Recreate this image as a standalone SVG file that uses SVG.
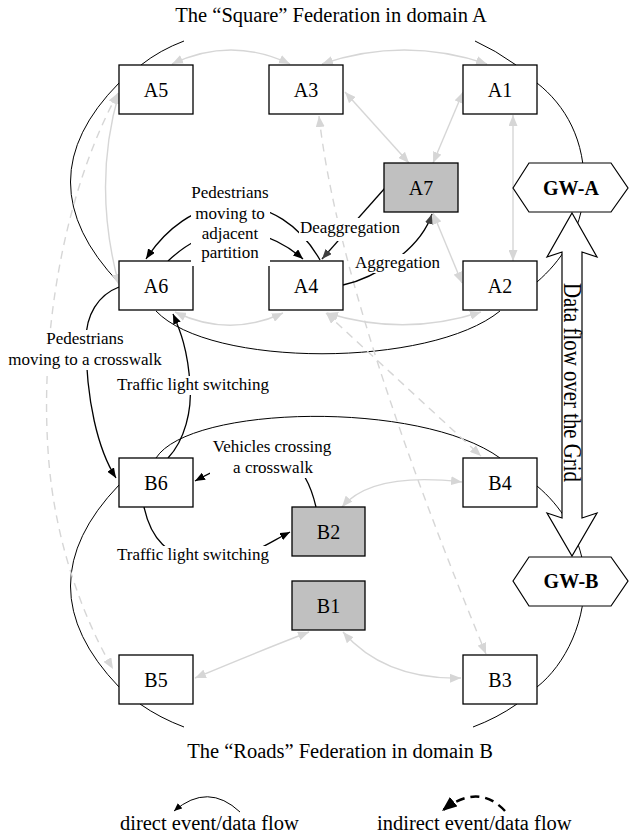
<svg xmlns="http://www.w3.org/2000/svg" width="629" height="838" viewBox="0 0 629 838">
  <defs>
    <style>
      .box { fill: #ffffff; stroke: #000000; stroke-width: 1.3; }
      .box.grey { fill: #c0c0c0; }
      .hex { fill: #ffffff; stroke: #000000; stroke-width: 1.2; }
      .ring { fill: none; stroke: #000000; stroke-width: 1; }
      .link { fill: none; stroke: #d6d6d6; stroke-width: 1.4; marker-start: url(#gh); marker-end: url(#gh); }
      .link.dash { stroke-dasharray: 8 6; }
      .flow { fill: none; stroke: #000000; stroke-width: 1.3; marker-end: url(#ah); }
      .flow.agg { marker-end: url(#dh); }
      .bg { fill: #ffffff; stroke: none; }
      text { font-family: "Liberation Serif", "Times New Roman", serif; fill: #000000; }
      .node { font-size: 20px; text-anchor: middle; }
      .gw { font-size: 20px; font-weight: bold; text-anchor: middle; }
      .lbl { font-size: 17px; text-anchor: middle; }
      .title { font-size: 20.5px; text-anchor: middle; }
      .legend { font-size: 20.5px; }
    </style>
    <marker id="ah" viewBox="0 0 10 8" refX="10" refY="4" markerWidth="10" markerHeight="8" markerUnits="userSpaceOnUse" orient="auto">
      <path d="M0,0 L10,4 L0,8 z" fill="#000000"/>
    </marker>
    <marker id="dh" viewBox="0 0 10 8" refX="10" refY="4" markerWidth="10" markerHeight="8" markerUnits="userSpaceOnUse" orient="auto">
      <path d="M0,0 L10,4 L0,8 z" fill="#404040"/>
    </marker>
    <marker id="gh" viewBox="0 0 11 9" refX="11" refY="4.5" markerWidth="11" markerHeight="9" markerUnits="userSpaceOnUse" orient="auto-start-reverse">
      <path d="M0,0 L11,4.5 L0,9 z" fill="#d6d6d6"/>
    </marker>
    <marker id="ls" viewBox="0 0 8 7" refX="8" refY="3.5" markerWidth="8" markerHeight="7" markerUnits="userSpaceOnUse" orient="auto">
      <path d="M0,0 L8,3.5 L0,7 z" fill="#000000"/>
    </marker>
    <marker id="lb" viewBox="0 0 15 12" refX="15" refY="6" markerWidth="15" markerHeight="12" markerUnits="userSpaceOnUse" orient="auto">
      <path d="M0,0 L15,6 L0,12 z" fill="#000000"/>
    </marker>
  </defs>

  <rect width="629" height="838" fill="#ffffff"/>

  <!-- federation titles -->
  <text class="title" x="331" y="22">The “Square” Federation in domain A</text>
  <text class="title" x="340" y="758">The “Roads” Federation in domain B</text>

  <g id="connectors">
    <!-- federation rings -->
    <g id="ring-a">
      <path class="ring" d="M184,41 Q160,50 141,65"/>
      <path class="ring" d="M119,83 Q22,181 119,283"/>
      <path class="ring" d="M156,311 C210,368 430,368 500,311"/>
      <path class="ring" d="M537,282 C560,262 582,232 584,190 C586,140 565,105 537,83"/>
      <path class="ring" d="M516,65 Q495,50 475,41"/>
    </g>
    <g id="ring-b">
      <path class="ring" d="M156,458 C190,405 420,400 500,458"/>
      <path class="ring" d="M537,486 C560,505 580,535 584,570 C588,620 565,665 537,687"/>
      <path class="ring" d="M119,485 Q22,586 119,687"/>
      <path class="ring" d="M140,704 Q160,718 184,727"/>
      <path class="ring" d="M517,704 Q497,718 473,727"/>
    </g>

    <!-- indirect links -->
    <path class="link" d="M172,64 Q231,36 290,64"/>
    <path class="link" d="M322,64 Q404,36 487,64"/>
    <path class="link" d="M345,92 L409,163"/>
    <path class="link" d="M463,92 L433,163"/>
    <path class="link" d="M513,115 L513,261"/>
    <path class="link" d="M433,213 L462,283"/>
    <path class="link" d="M119,93 Q92,185 119,285"/>
    <path class="link" d="M175,312 Q229,338 283,313"/>
    <path class="link" d="M327,313 Q404,337 481,312"/>
    <path class="link dash" d="M118,93 C65,190 40,330 48,450 C54,550 90,630 113,669"/>
    <path class="link dash" d="M319,116 C335,260 410,470 486,654"/>
    <path class="link dash" d="M326,313 L481,456"/>
    <path class="link" d="M342,507 C365,480 410,476 462,482"/>
    <path class="link" d="M309,632 Q262,650 195,678"/>
    <path class="link" d="M343,632 Q385,680 461,678"/>

    <!-- direct event/data flows -->
    <path class="flow" d="M320,260 C300,225 270,205 232,205 C195,205 165,230 146,259"/>
    <path class="flow" d="M168,261 C185,245 205,232 235,232 C262,232 285,243 303,259"/>
    <path class="flow agg" d="M385,188 L322,259"/>
    <path class="flow agg" d="M343,285 C375,278 420,250 432,214"/>
    <path class="flow" d="M119,287 C98,295 86,315 86,340 C86,400 98,450 116,478"/>
    <path class="flow" d="M168,458 C185,440 192,410 190,385 C188,350 180,330 173,314"/>
    <path class="flow" d="M316,507 C312,490 305,470 290,462 C260,450 230,462 195,481"/>
    <path class="flow" d="M144,507 C150,535 165,560 210,562 C240,563 265,545 290,532"/>
  </g>

  <!-- federates of domain A -->
  <g id="A5"><rect class="box" x="119" y="65" width="74" height="49"/><text class="node" x="156" y="97">A5</text></g>
  <g id="A3"><rect class="box" x="269" y="65" width="74" height="49"/><text class="node" x="306" y="97">A3</text></g>
  <g id="A1"><rect class="box" x="463" y="65" width="74" height="49"/><text class="node" x="500" y="97">A1</text></g>
  <g id="A7"><rect class="box grey" x="384" y="163" width="74" height="49"/><text class="node" x="421" y="195">A7</text></g>
  <g id="A6"><rect class="box" x="119" y="261" width="74" height="49"/><text class="node" x="156" y="293">A6</text></g>
  <g id="A4"><rect class="box" x="269" y="261" width="74" height="49"/><text class="node" x="306" y="293">A4</text></g>
  <g id="A2"><rect class="box" x="463" y="261" width="74" height="49"/><text class="node" x="500" y="293">A2</text></g>

  <!-- federates of domain B -->
  <g id="B6"><rect class="box" x="119" y="458" width="74" height="49"/><text class="node" x="156" y="490">B6</text></g>
  <g id="B4"><rect class="box" x="463" y="458" width="74" height="49"/><text class="node" x="500" y="490">B4</text></g>
  <g id="B2"><rect class="box grey" x="292" y="507" width="73" height="49"/><text class="node" x="328.5" y="539">B2</text></g>
  <g id="B1"><rect class="box grey" x="292" y="581" width="73" height="49"/><text class="node" x="328.5" y="613">B1</text></g>
  <g id="B5"><rect class="box" x="119" y="655" width="74" height="49"/><text class="node" x="156" y="687">B5</text></g>
  <g id="B3"><rect class="box" x="463" y="655" width="74" height="49"/><text class="node" x="500" y="687">B3</text></g>

  <!-- grid data flow between the gateways -->
  <g id="grid-flow">
    <polygon class="hex" points="572,213 597,257 582,252 582,518 597,513 572,556 547,513 562,518 562,252 547,257"/>
    <text font-size="25" textLength="199" lengthAdjust="spacingAndGlyphs" transform="translate(564,283) rotate(90)">Data flow over the Grid</text>
  </g>

  <!-- gateways -->
  <g id="GW-A"><polygon class="hex" points="513,188 529,163 611,163 628,188 611,212 529,212"/><text class="gw" x="571" y="195">GW-A</text></g>
  <g id="GW-B"><polygon class="hex" points="513,581 529,557 611,557 628,581 611,606 529,606"/><text class="gw" x="571" y="588">GW-B</text></g>

  <!-- flow labels -->
  <g id="labels">
    <rect class="bg" x="191" y="184" width="79" height="82"/>
    <text class="lbl" x="230" y="198">Pedestrians</text>
    <text class="lbl" x="230" y="219">moving to</text>
    <text class="lbl" x="230" y="239">adjacent</text>
    <text class="lbl" x="230" y="258">partition</text>

    <rect class="bg" x="299" y="218" width="102" height="23"/>
    <text class="lbl" x="350" y="233">Deaggregation</text>

    <rect class="bg" x="354" y="254" width="87" height="19"/>
    <text class="lbl" x="397.5" y="268">Aggregation</text>

    <rect class="bg" x="5" y="330" width="160" height="40"/>
    <text class="lbl" x="85" y="344">Pedestrians</text>
    <text class="lbl" x="85" y="365">moving to a crosswalk</text>

    <rect class="bg" x="115" y="376" width="156" height="19"/>
    <text class="lbl" x="193" y="390">Traffic light switching</text>

    <rect class="bg" x="210" y="438" width="124" height="40"/>
    <text class="lbl" x="272" y="452">Vehicles crossing</text>
    <text class="lbl" x="273" y="473">a crosswalk</text>

    <rect class="bg" x="115" y="546" width="156" height="19"/>
    <text class="lbl" x="193" y="560">Traffic light switching</text>
  </g>

  <!-- legend -->
  <g id="legend">
    <path d="M240,812 Q208,782 174,811" fill="none" stroke="#000000" stroke-width="1" marker-end="url(#ls)"/>
    <text class="legend" x="120" y="830">direct event/data flow</text>
    <path d="M505,811 Q478,782 442,811" fill="none" stroke="#000000" stroke-width="2.5" stroke-dasharray="9 6" marker-end="url(#lb)"/>
    <text class="legend" x="377" y="830">indirect event/data flow</text>
  </g>
</svg>
